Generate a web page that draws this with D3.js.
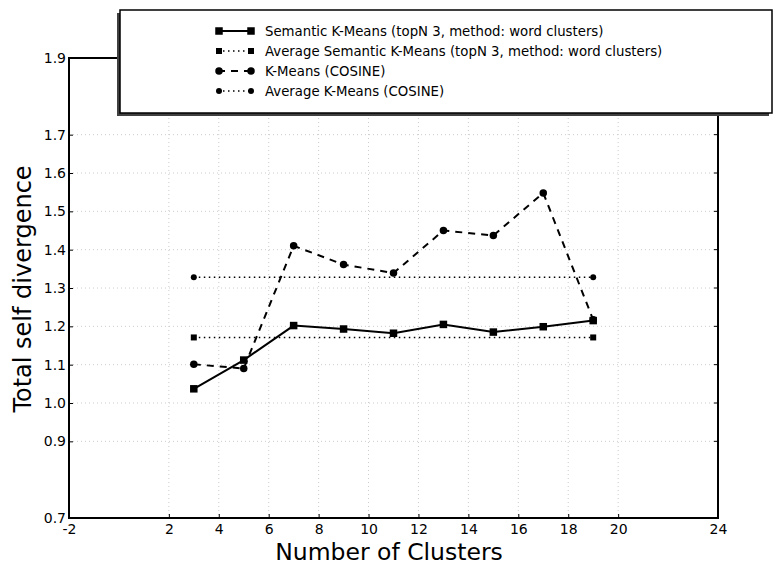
<!DOCTYPE html>
<html>
<head>
<meta charset="utf-8">
<script src="https://cdn.jsdelivr.net/npm/d3@7"></script>
<style>
  html, body { margin: 0; padding: 0; background: #fff; }
  svg { display: block; font-family: "DejaVu Sans", sans-serif; }
</style>
</head>
<body>
<svg id="chart" width="780" height="566"></svg>
<script>
// Cluster counts on the x axis
const clusters = [3, 5, 7, 9, 11, 13, 15, 17, 19];
// Total self divergence per clustering run
const semanticKMeans = [1.037, 1.112, 1.202, 1.193, 1.182, 1.205, 1.185, 1.199, 1.215];
const cosineKMeans   = [1.101, 1.090, 1.410, 1.361, 1.339, 1.450, 1.437, 1.548, 1.217];
// Averages drawn as flat reference lines over the sampled range
const avgSemantic = [1.171, 1.171];
const avgCosine   = [1.328, 1.328];
const avgX = [3, 19];

const xTicks = [-2, 2, 4, 6, 8, 10, 12, 14, 16, 18, 20, 24];
const yTicks = [0.7, 0.9, 1.0, 1.1, 1.2, 1.3, 1.4, 1.5, 1.6, 1.7, 1.9];

const legendLabels = [
  "Semantic K-Means (topN 3, method: word clusters)",
  "Average Semantic K-Means (topN 3, method: word clusters)",
  "K-Means (COSINE)",
  "Average K-Means (COSINE)"
];

const svg = d3.select("#chart");
const plotLeft = 69, plotRight = 718, plotTop = 58, plotBottom = 518;

const x = d3.scaleLinear().domain([-2, 24]).range([plotLeft, plotRight]);
const y = d3.scaleLinear().domain([0.7, 1.9]).range([plotBottom, plotTop]);

// grid
const grid = svg.append("g").attr("stroke", "#cccccc").attr("stroke-width", 1)
  .attr("stroke-dasharray", "1,3");
xTicks.filter(t => t > -2 && t < 24).forEach(t => {
  grid.append("line").attr("x1", x(t)).attr("x2", x(t)).attr("y1", plotTop).attr("y2", plotBottom);
});
yTicks.filter(t => t > 0.7 && t < 1.9).forEach(t => {
  grid.append("line").attr("x1", plotLeft).attr("x2", plotRight).attr("y1", y(t)).attr("y2", y(t));
});

// axes with inward ticks; plain hyphen for negatives
const xAxis = d3.axisBottom(x).tickValues(xTicks).tickFormat(d => String(d))
  .tickSizeInner(-4).tickSizeOuter(0).tickPadding(6);
const gx = svg.append("g").attr("transform", `translate(0,${plotBottom})`).call(xAxis);
const yAxis = d3.axisLeft(y).tickValues(yTicks).tickFormat(d3.format(".1f"))
  .tickSizeInner(-4).tickSizeOuter(0).tickPadding(3);
const gy = svg.append("g").attr("transform", `translate(${plotLeft},0)`).call(yAxis);
[gx, gy].forEach(g => {
  g.select(".domain").remove();
  g.selectAll(".tick line").attr("stroke", "#000").attr("stroke-width", 1);
  g.selectAll(".tick text").attr("font-size", 14).attr("fill", "#000")
    .attr("font-family", "DejaVu Sans, sans-serif");
});
// right-side ticks
yTicks.forEach(t => {
  svg.append("line").attr("x1", plotRight).attr("x2", plotRight - 4)
    .attr("y1", y(t)).attr("y2", y(t)).attr("stroke", "#000");
});
// top-side ticks
xTicks.forEach(t => {
  svg.append("line").attr("x1", x(t)).attr("x2", x(t))
    .attr("y1", plotTop).attr("y2", plotTop + 4).attr("stroke", "#000");
});

// frame
svg.append("rect").attr("x", plotLeft).attr("y", plotTop)
  .attr("width", plotRight - plotLeft).attr("height", plotBottom - plotTop)
  .attr("fill", "none").attr("stroke", "#000").attr("stroke-width", 2);

// series
const line = d3.line().x(d => x(d[0])).y(d => y(d[1]));
const zip = (xs, ys) => xs.map((v, i) => [v, ys[i]]);

function drawMarker(g, cx, cy, marker, size) {
  if (marker === "square") {
    g.append("rect").attr("x", cx - size / 2).attr("y", cy - size / 2)
      .attr("width", size).attr("height", size).attr("fill", "#000");
  } else {
    g.append("circle").attr("cx", cx).attr("cy", cy).attr("r", size / 2).attr("fill", "#000");
  }
}
function drawSeries(pts, style) {
  svg.append("path").datum(pts).attr("d", line)
    .attr("fill", "none").attr("stroke", "#000")
    .attr("stroke-width", style.width)
    .attr("stroke-dasharray", style.dash || null);
  const g = svg.append("g");
  pts.forEach(p => drawMarker(g, x(p[0]), y(p[1]), style.marker, style.size));
}

const styles = [
  { width: 2, dash: null, marker: "square", size: 7.5 },
  { width: 1.5, dash: "1.5,3.5", marker: "square", size: 6 },
  { width: 2, dash: "7,6", marker: "circle", size: 7.5 },
  { width: 1.5, dash: "1.5,3.5", marker: "circle", size: 6 }
];

drawSeries(zip(avgX, avgCosine), styles[3]);
drawSeries(zip(avgX, avgSemantic), styles[1]);
drawSeries(zip(clusters, cosineKMeans), styles[2]);
drawSeries(zip(clusters, semanticKMeans), styles[0]);

// axis titles
svg.append("text").attr("x", 389).attr("y", 560)
  .attr("text-anchor", "middle").attr("font-size", 23.5).text("Number of Clusters");
svg.append("text").attr("transform", `translate(31,289) rotate(-90)`)
  .attr("text-anchor", "middle").attr("font-size", 24).text("Total self divergence");

// legend with offset shadow
const lg = svg.append("g");
lg.append("rect").attr("x", 117).attr("y", 13).attr("width", 652).attr("height", 103)
  .attr("fill", "#404040");
lg.append("rect").attr("x", 120).attr("y", 10).attr("width", 652).attr("height", 103)
  .attr("fill", "#fff").attr("stroke", "#000").attr("stroke-width", 1.5);
legendLabels.forEach((label, i) => {
  const ry = 31 + i * 20;
  const s = styles[i];
  lg.append("line").attr("x1", 218).attr("x2", 252).attr("y1", ry).attr("y2", ry)
    .attr("stroke", "#000").attr("stroke-width", s.width)
    .attr("stroke-dasharray", s.dash || null);
  drawMarker(lg, 219, ry, s.marker, s.size);
  drawMarker(lg, 251, ry, s.marker, s.size);
  lg.append("text").attr("x", 265).attr("y", ry + 5).attr("font-size", 13.3).text(label);
});
</script>
</body>
</html>
